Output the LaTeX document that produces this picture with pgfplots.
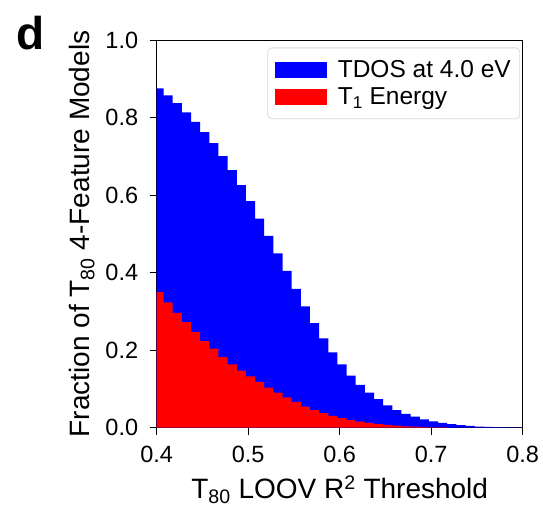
\documentclass[border=0pt]{standalone}
\usepackage{fontspec}
\setmainfont{Liberation Sans}
\usepackage{pgfplots}
\pgfplotsset{compat=1.18}
\begin{document}
\begin{tikzpicture}[x=1pt,y=1pt]
\path[use as bounding box] (-156.7,-83.5) rectangle (386.3,427.5);
\begin{axis}[
  at={(0,0)}, anchor=south west,
  scale only axis, width=366pt, height=387pt,
  xmin=0.4, xmax=0.8, ymin=0, ymax=1,
  xtick={0.4,0.5,0.6,0.7,0.8}, ytick={0,0.2,0.4,0.6,0.8,1.0},
  /pgf/number format/assume math mode=true,
  /pgf/number format/fixed, /pgf/number format/fixed zerofill, /pgf/number format/precision=1,
  tick label style={font=\fontsize{23.5}{26}\selectfont},
  xticklabel shift=8pt, yticklabel shift=8pt,
  label style={font=\fontsize{28}{32}\selectfont},
  xlabel style={yshift=-6pt}, ylabel style={yshift=4pt},
  tick align=outside, major tick length=7pt, xtick pos=left, ytick pos=left,
  axis line style={line width=1.1pt}, tick style={line width=1.1pt, black},
  xlabel={T\textsubscript{80} LOOV R\textsuperscript{2} Threshold},
  ylabel={Fraction of T\textsubscript{80} 4-Feature Models},
  legend style={at={(0.993,0.982)}, anchor=north east, draw=black!15, line width=0.8pt,
    rounded corners=4pt, font=\fontsize{24.5}{27}\selectfont, inner xsep=7pt, inner ysep=11pt,
    row sep=4pt, column sep=9pt},
  legend cell align=left,
  legend image code/.code={\fill[#1, sharp corners] (0pt,-8pt) rectangle (52pt,8pt);},
]
\addplot[fill=blue, draw=none, const plot mark left] coordinates {
(0.3975,0.876) (0.4075,0.858) (0.4175,0.838) (0.4275,0.814) (0.4375,0.790)
(0.4475,0.763) (0.4575,0.735) (0.4675,0.701) (0.4775,0.665) (0.4875,0.626)
(0.4975,0.585) (0.5075,0.540) (0.5175,0.495) (0.5275,0.450) (0.5375,0.405)
(0.5475,0.358) (0.5575,0.313) (0.5675,0.270) (0.5775,0.230) (0.5875,0.194)
(0.5975,0.163) (0.6075,0.134) (0.6175,0.110) (0.6275,0.090) (0.6375,0.073)
(0.6475,0.057) (0.6575,0.045) (0.6675,0.035) (0.6775,0.028) (0.6875,0.021)
(0.6975,0.016) (0.7075,0.012) (0.7175,0.009) (0.7275,0.006) (0.7375,0.004)
(0.7475,0.0025) (0.7575,0.0015) (0.7675,0.0008) (0.7775,0.0004) (0.7875,0.0002)
(0.7975,0.0001) (0.8075,0)
} \closedcycle;
\addlegendentry{TDOS at 4.0 eV}
\addplot[fill=red, draw=none, const plot mark left] coordinates {
(0.3975,0.350) (0.4075,0.323) (0.4175,0.296) (0.4275,0.272) (0.4375,0.247)
(0.4475,0.223) (0.4575,0.204) (0.4675,0.182) (0.4775,0.163) (0.4875,0.147)
(0.4975,0.132) (0.5075,0.118) (0.5175,0.103) (0.5275,0.090) (0.5375,0.078)
(0.5475,0.066) (0.5575,0.054) (0.5675,0.045) (0.5775,0.037) (0.5875,0.030)
(0.5975,0.024) (0.6075,0.019) (0.6175,0.015) (0.6275,0.012) (0.6375,0.009)
(0.6475,0.007) (0.6575,0.005) (0.6675,0.003) (0.6775,0.002) (0.6875,0.001)
(0.6975,0.0005) (0.7075,0.0002) (0.7175,0)
} \closedcycle;
\addlegendentry{T\textsubscript{1} Energy}
\end{axis}
\node[font=\bfseries\fontsize{46}{50}\selectfont] at (-125.7,394.5) {d};
\end{tikzpicture}
\end{document}
